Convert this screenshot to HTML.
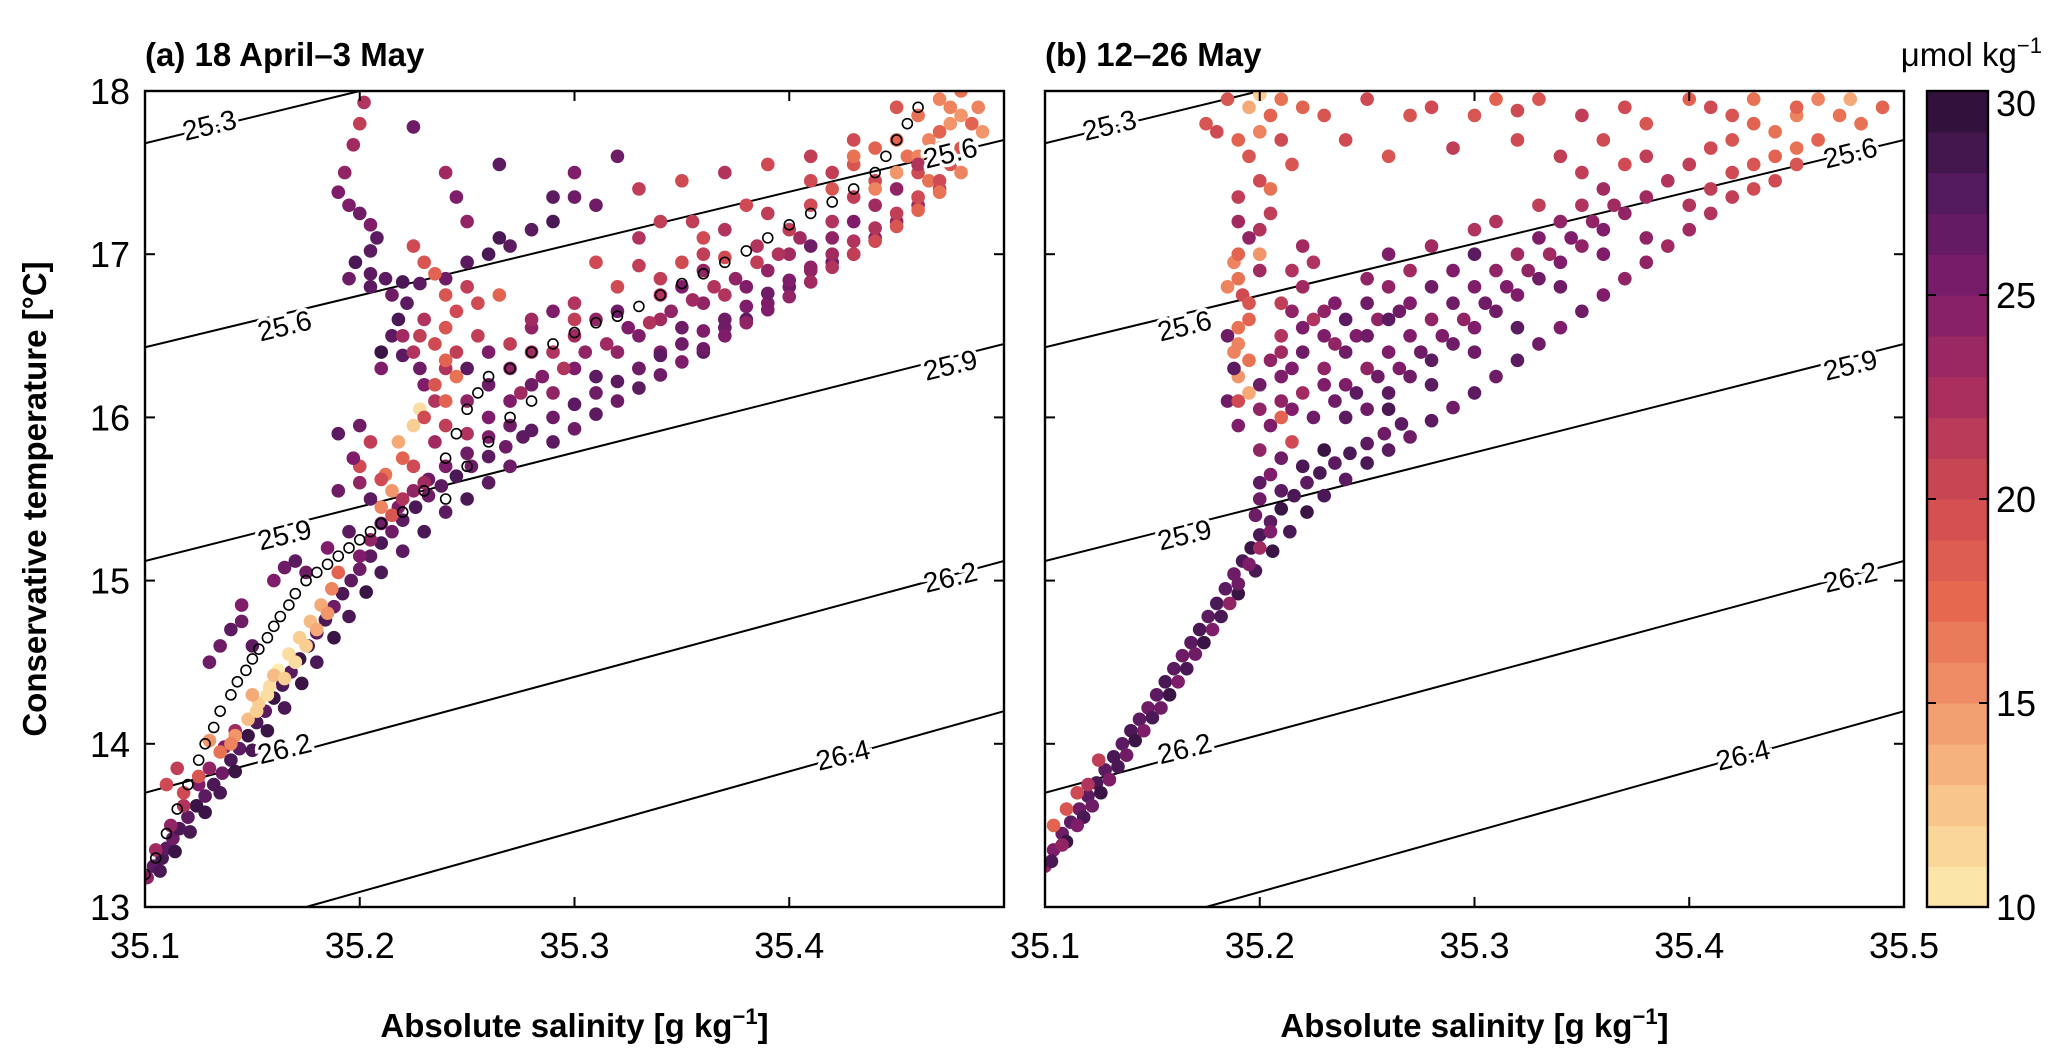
<!DOCTYPE html>
<html><head><meta charset="utf-8"><style>
html,body{margin:0;padding:0;background:#fff;}
svg{display:block;font-family:"Liberation Sans",Arial,sans-serif;}
</style></head><body>
<svg id="chart" width="2067" height="1057" viewBox="0 0 2067 1057" xmlns="http://www.w3.org/2000/svg">
<defs>
<clipPath id="clipA"><rect x="145" y="91" width="859" height="816"/></clipPath>
<clipPath id="clipB"><rect x="1045" y="91" width="859" height="816"/></clipPath>
</defs>
<g id="root"></g>
</svg>
<script>
// ---- data ----
const xTicks = [35.1, 35.2, 35.3, 35.4, 35.5];
const yTicks = [13, 14, 15, 16, 17, 18];
const cbTicks = [10, 15, 20, 25, 30];
const isoLabels = ["25.3", "25.6", "25.9", "26.2", "26.4"];
const isoStartS = [35.1, 35.1, 35.1, 35.1, 35.175];
const isoStartT = [17.68, 16.43, 15.12, 13.70, 13.0];
const isoEndS = [35.2, 35.5, 35.5, 35.5, 35.5];
const isoEndT = [18.0, 17.70, 16.45, 15.12, 14.2];
const isoLabelS = [[35.13], [35.165, 35.475], [35.165, 35.475], [35.165, 35.475], [35.425]];
const isoLabelT = [[17.79], [16.56, 17.62], [15.28, 16.32], [13.97, 15.02], [13.93]];

const pointsA = [
[35.101,13.18,24],[35.104,13.25,27],[35.108,13.3,28],[35.11,13.36,27],[35.113,13.42,26],[35.116,13.48,28],[35.12,13.55,27],[35.124,13.62,29],[35.128,13.68,27],[35.132,13.75,28],[35.136,13.82,26],[35.14,13.9,28],[35.144,13.97,27],[35.148,14.05,29],[35.152,14.13,28],[35.156,14.2,27],[35.16,14.28,29],[35.164,14.36,28],[35.168,14.44,27],[35.172,14.52,29],[35.176,14.6,28],[35.18,14.68,27],[35.184,14.76,28],[35.188,14.84,26],[35.192,14.92,28],[35.196,15.0,27],[35.2,15.07,26],[35.205,15.15,27],[35.21,15.23,28],[35.215,15.3,26],[35.22,15.37,27],[35.226,15.45,28],[35.232,15.52,26],[35.238,15.58,27],[35.245,15.64,28],[35.252,15.7,26],[35.26,15.76,27],[35.268,15.82,26],[35.276,15.88,27],
[35.107,13.22,28],[35.114,13.34,29],[35.121,13.46,28],[35.128,13.58,29],[35.135,13.7,28],[35.142,13.83,29],[35.15,13.96,28],[35.157,14.08,29],[35.165,14.22,28],[35.173,14.37,29],[35.18,14.5,28],[35.188,14.65,29],[35.195,14.78,28],[35.203,14.93,29],[35.21,15.05,28],[35.22,15.18,27],[35.23,15.3,28],[35.24,15.42,27],[35.25,15.5,28],[35.26,15.6,27],[35.27,15.7,26],
[35.105,13.35,23],[35.112,13.5,24],[35.118,13.62,22],[35.125,13.75,25],[35.13,13.85,24],[35.137,13.98,25],[35.142,14.08,23],[35.2,15.15,25],[35.205,15.25,24],[35.21,15.35,26],[35.218,15.45,25],[35.225,15.55,24],[35.232,15.62,26],[35.24,15.7,25],[35.25,15.78,26],[35.26,15.88,25],[35.27,15.95,26],
[35.135,13.95,17],[35.142,14.05,15],[35.148,14.15,13],[35.153,14.25,12],[35.158,14.35,11],[35.162,14.45,10],[35.167,14.55,11],[35.172,14.65,12],[35.177,14.75,13],[35.182,14.85,14],[35.187,14.95,16],[35.19,15.05,18],[35.125,13.8,19],[35.118,13.7,20],[35.13,14.02,15],[35.15,14.3,14],[35.16,14.42,13],
[35.152,14.2,12],[35.157,14.3,11],[35.165,14.4,12],[35.17,14.5,11],[35.175,14.6,12],[35.18,14.7,14],[35.185,14.8,15],[35.14,14.0,16],
[35.13,14.5,26],[35.135,14.6,26],[35.14,14.7,27],[35.145,14.75,26],[35.15,14.6,27],[35.145,14.85,25],[35.16,15.0,25],[35.165,15.08,26],[35.17,15.12,27],[35.175,15.05,26],[35.185,15.2,25],[35.195,15.3,27],[35.205,15.5,27],
[35.11,13.75,20],[35.115,13.85,21],
[35.21,15.45,16],[35.215,15.55,15],[35.212,15.65,17],[35.22,15.75,18],[35.218,15.85,14],[35.225,15.95,12],[35.228,16.05,11],[35.2,15.7,20],[35.205,15.85,21],[35.197,15.75,25],[35.19,15.9,27],[35.2,15.95,26],
[35.19,15.55,26],[35.2,15.6,24],[35.21,15.62,20],[35.215,15.4,19],[35.22,15.5,22],[35.225,15.7,20],[35.23,15.6,23],
[35.202,17.93,22],[35.2,17.8,21],[35.197,17.67,23],[35.193,17.5,24],[35.19,17.38,25],[35.195,17.3,25],[35.2,17.25,26],[35.205,17.18,25],[35.208,17.1,27],[35.205,17.02,27],[35.198,16.95,28],[35.205,16.88,27],[35.212,16.85,27],[35.22,16.83,28],[35.228,16.82,27],[35.222,16.7,27],[35.218,16.6,28],[35.215,16.5,27],[35.21,16.4,29],[35.22,16.38,27],[35.228,16.3,26],[35.23,16.2,25],[35.235,16.1,22],[35.23,16.0,20],
[35.21,16.3,25],[35.22,16.5,23],[35.225,16.4,22],[35.215,16.75,26],[35.205,16.8,27],[35.195,16.85,26],[35.24,16.3,22],[35.245,16.4,21],[35.24,16.1,18],
[35.24,16.85,26],[35.25,16.95,27],[35.26,17.0,28],[35.27,17.05,27],[35.28,17.15,27],[35.29,17.2,28],[35.3,17.35,26],
[35.225,17.78,26],[35.24,17.5,23],[35.245,17.35,25],[35.25,17.2,24],[35.265,17.1,28],[35.265,17.55,27],[35.29,17.35,27],[35.31,17.3,26],[35.3,17.5,25],[35.32,17.6,26],
[35.225,17.05,20],[35.23,16.95,19],[35.235,16.88,18],[35.24,16.75,19],[35.245,16.65,20],[35.24,16.55,19],[35.235,16.45,20],[35.24,16.35,18],[35.245,16.25,17],[35.235,16.2,19],[35.25,16.8,21],[35.255,16.7,20],[35.265,16.75,18],[35.255,16.5,21],[35.23,16.6,22],[35.228,16.5,21],
[35.31,16.95,20],[35.33,16.93,21],[35.35,16.95,20],[35.36,17.0,21],[35.37,16.98,20],[35.355,17.2,21],[35.38,17.3,20],[35.39,17.25,21],[35.41,17.45,20],[35.42,17.5,21],[35.43,17.55,19],[35.44,17.65,18],[35.45,17.7,18],[35.46,17.85,17],[35.47,17.95,16],[35.48,18.0,17],[35.475,17.8,15],[35.465,17.7,16],[35.455,17.6,17],[35.46,17.5,20],[35.44,17.45,20],[35.43,17.35,21],[35.42,17.2,22],[35.4,17.15,21],[35.385,17.05,22],[35.37,17.15,22],[35.34,17.2,21],[35.33,17.1,22],[35.33,17.4,21],[35.35,17.45,20],[35.37,17.5,22],[35.39,17.55,20],[35.41,17.6,21],[35.43,17.7,20],[35.45,17.9,19],[35.47,17.75,18],
[35.44,17.4,16],[35.45,17.5,15],[35.46,17.6,16],[35.465,17.45,17],[35.47,17.65,15],[35.48,17.85,15],[35.475,17.9,16],[35.43,17.6,17],[35.42,17.4,19],[35.41,17.3,20],
[35.27,16.1,25],[35.28,16.2,26],[35.29,16.15,24],[35.3,16.3,25],[35.31,16.25,27],[35.32,16.4,24],[35.3,16.5,23],[35.29,16.4,22],[35.28,16.55,24],[35.33,16.5,25],[35.34,16.6,23],[35.35,16.55,26],[35.36,16.7,24],[35.37,16.75,22],[35.38,16.8,25],[35.39,16.9,24],[35.4,17.0,23],[35.41,17.05,26],[35.42,17.1,24],[35.43,17.2,25],[35.44,17.3,23],[35.45,17.4,24],[35.46,17.55,22],[35.35,16.8,25],[35.36,16.9,24],[35.34,16.75,22],[35.32,16.65,26],[35.31,16.6,24],[35.3,16.7,22],[35.29,16.65,25],[35.28,16.4,23],[35.27,16.3,24],[35.26,16.2,26],[35.26,16.4,25],[35.25,16.3,27],[35.33,16.3,26],[35.34,16.4,25],[35.36,16.4,27],[35.37,16.55,26],[35.38,16.6,27],[35.39,16.7,25],[35.4,16.8,26],[35.41,16.9,24],[35.42,16.95,26],[35.43,17.0,23],[35.44,17.1,25],[35.45,17.2,24],[35.46,17.3,23],[35.47,17.4,21],
[35.275,16.15,23],[35.285,16.25,25],[35.295,16.3,22],[35.305,16.4,24],[35.315,16.45,23],[35.325,16.55,25],[35.335,16.58,22],[35.345,16.65,24],[35.355,16.72,23],[35.365,16.8,22],[35.375,16.85,24],[35.385,16.95,21],[35.395,17.0,22],[35.405,17.1,23],[35.27,16.45,21],[35.28,16.6,23],[35.3,16.6,21],[35.32,16.8,20],[35.34,16.85,21],[35.36,17.1,20],[35.25,16.1,24],[35.26,16.0,25],[35.235,15.85,23],[35.24,15.95,21],[35.25,15.9,22],
[35.28,15.92,27],[35.29,16.0,26],[35.3,16.08,27],[35.31,16.15,26],[35.32,16.22,27],[35.33,16.3,26],[35.34,16.38,27],[35.35,16.45,26],[35.36,16.53,25],[35.37,16.6,26],[35.38,16.68,25],[35.39,16.76,26],[35.4,16.84,25],[35.41,16.92,24],[35.42,17.0,23],[35.43,17.08,22],[35.44,17.16,22],[35.45,17.25,21],[35.46,17.35,20],[35.47,17.45,20],[35.475,17.55,19],[35.48,17.65,19],[35.485,17.8,18],
[35.29,15.85,27],[35.3,15.93,26],[35.31,16.02,27],[35.32,16.1,26],[35.33,16.18,27],[35.34,16.26,26],[35.35,16.34,25],[35.36,16.42,26],[35.37,16.5,25],[35.38,16.58,24],[35.39,16.66,25],[35.4,16.74,24],[35.41,16.83,23],[35.42,16.92,22],[35.43,17.0,21],[35.44,17.08,20],[35.45,17.17,19],[35.46,17.27,18],[35.47,17.38,17],[35.48,17.5,16],[35.485,17.62,16],[35.49,17.75,15],[35.488,17.9,16]
];
const circlesS = [35.1,35.105,35.11,35.115,35.12,35.125,35.128,35.132,35.135,35.14,35.143,35.147,35.15,35.153,35.157,35.16,35.163,35.167,35.17,35.175,35.18,35.185,35.19,35.195,35.2,35.205,35.21,35.22,35.23,35.24,35.245,35.25,35.255,35.26,35.27,35.28,35.29,35.3,35.31,35.32,35.33,35.34,35.35,35.36,35.37,35.38,35.39,35.4,35.41,35.42,35.43,35.44,35.445,35.45,35.455,35.46,35.24,35.25,35.26,35.27,35.28];
const circlesT = [13.2,13.3,13.45,13.6,13.75,13.9,14.0,14.1,14.2,14.3,14.38,14.45,14.52,14.58,14.65,14.72,14.78,14.85,14.92,15.0,15.05,15.1,15.15,15.2,15.25,15.3,15.35,15.42,15.55,15.75,15.9,16.05,16.15,16.25,16.3,16.4,16.45,16.52,16.58,16.62,16.68,16.75,16.82,16.88,16.95,17.02,17.1,17.18,17.25,17.32,17.4,17.5,17.6,17.7,17.8,17.9,15.5,15.7,15.85,16.0,16.1];

const pointsB = [
[35.1,13.25,24],[35.104,13.35,25],[35.108,13.45,26],[35.112,13.52,27],[35.116,13.6,26],[35.12,13.68,27],[35.124,13.76,28],[35.128,13.84,27],[35.132,13.92,28],[35.136,14.0,27],[35.14,14.08,28],[35.144,14.15,27],[35.148,14.22,26],[35.152,14.3,27],[35.156,14.38,28],[35.16,14.46,27],[35.164,14.54,26],[35.168,14.62,27],[35.172,14.7,28],[35.176,14.78,27],[35.18,14.86,28],[35.184,14.95,27],[35.188,15.04,26],[35.192,15.12,28],[35.196,15.2,29],[35.2,15.28,28],[35.205,15.36,27],[35.21,15.44,29],[35.216,15.52,28],[35.222,15.6,27],[35.228,15.66,28],[35.235,15.72,27],[35.242,15.78,28],[35.25,15.84,27],[35.258,15.9,26],[35.266,15.96,27],
[35.103,13.28,28],[35.11,13.4,29],[35.118,13.55,28],[35.126,13.7,29],[35.134,13.86,28],[35.142,14.02,29],[35.15,14.16,28],[35.158,14.3,29],[35.166,14.46,28],[35.174,14.62,29],[35.182,14.78,28],[35.19,14.92,29],[35.198,15.06,28],[35.206,15.18,29],[35.214,15.3,28],[35.222,15.42,29],[35.23,15.52,28],[35.24,15.62,27],[35.25,15.72,28],[35.26,15.8,27],[35.27,15.88,26],[35.28,15.98,27],[35.29,16.06,26],[35.3,16.15,27],[35.31,16.25,26],[35.32,16.35,27],[35.33,16.45,26],[35.34,16.55,25],[35.35,16.65,26],[35.36,16.75,25],[35.37,16.85,24],[35.38,16.95,24],[35.39,17.05,23],[35.4,17.15,23],[35.41,17.25,22],[35.42,17.35,21],[35.44,17.45,20],[35.45,17.55,19],
[35.108,13.38,24],[35.115,13.5,25],[35.122,13.62,26],[35.13,13.78,25],[35.138,13.93,26],[35.146,14.08,25],[35.154,14.22,26],[35.162,14.38,25],[35.17,14.55,26],[35.178,14.7,25],[35.186,14.86,24],[35.19,14.98,26],[35.195,15.1,25],[35.2,15.2,23],[35.205,15.3,25],[35.198,15.4,26],[35.21,15.55,27],[35.22,15.7,28],[35.23,15.8,29],
[35.104,13.5,18],[35.11,13.6,19],[35.115,13.7,20],[35.12,13.75,22],[35.125,13.9,21],
[35.2,15.5,26],[35.205,15.65,25],[35.2,15.8,24],[35.205,15.95,25],[35.21,16.1,24],[35.2,16.2,26],[35.205,16.35,24],[35.21,16.5,22],[35.215,16.65,24],[35.22,16.8,23],[35.225,16.95,22],[35.215,16.3,25],[35.22,16.15,23],[35.225,16.0,26],[35.23,16.2,25],[35.235,16.45,24],[35.225,16.6,22],[35.21,16.7,21],[35.2,16.9,23],[35.195,17.1,24],[35.19,17.2,23],[35.192,16.75,20],[35.195,16.6,18],[35.19,16.45,16],[35.195,16.35,17],[35.19,16.25,15],[35.195,16.15,14],[35.19,16.85,17],[35.188,16.95,16],[35.2,17.0,15],[35.2,17.15,22],[35.19,17.35,21],[35.2,17.45,20],[35.195,17.6,19],[35.2,17.75,16],[35.195,17.9,14],[35.205,17.85,18],[35.21,17.7,20],[35.215,17.55,19],[35.205,17.4,17],[35.21,16.0,18],[35.215,15.85,20],[35.19,15.95,25],[35.185,16.1,26],[35.188,16.3,27],[35.185,16.5,26],
[35.2,15.6,27],[35.21,15.75,26],[35.215,16.05,25],[35.2,16.05,24],[35.21,16.4,23],[35.22,16.55,25],[35.23,16.65,24],[35.215,16.9,22],[35.22,17.05,23],[35.205,17.25,21],[35.195,16.7,19],[35.19,16.55,17],[35.188,16.4,16],[35.19,16.1,20],[35.19,17.0,18],[35.185,16.8,16],
[35.24,16.0,27],[35.25,16.05,26],[35.26,16.15,27],[35.27,16.25,26],[35.28,16.35,27],[35.29,16.45,26],[35.3,16.55,25],[35.31,16.65,26],[35.32,16.75,25],[35.33,16.85,26],[35.34,16.95,25],[35.35,17.05,24],[35.36,17.15,25],[35.37,17.25,24],[35.38,17.35,23],[35.39,17.45,22],[35.4,17.55,21],[35.41,17.65,20],[35.42,17.7,19],[35.43,17.8,18],[35.44,17.75,17],[35.45,17.85,16],
[35.235,16.1,26],[35.245,16.15,27],[35.255,16.25,26],[35.265,16.3,25],[35.275,16.4,26],[35.285,16.5,25],[35.295,16.6,24],[35.305,16.7,26],[35.315,16.8,25],[35.325,16.9,24],[35.335,17.0,23],[35.345,17.1,25],[35.355,17.2,24],[35.365,17.3,23],[35.245,16.5,25],[35.255,16.6,24],[35.265,16.65,26],[35.235,16.7,25],[35.25,16.85,24],[35.26,17.0,25],[35.28,17.05,23],[35.3,17.15,22],
[35.24,16.2,25],[35.25,16.3,24],[35.26,16.4,25],[35.25,16.5,26],[35.26,16.6,27],[35.27,16.5,25],[35.28,16.6,24],[35.29,16.7,26],[35.3,16.8,25],[35.31,16.9,24],[35.32,17.0,23],[35.33,17.1,25],[35.34,17.2,24],[35.35,17.3,22],[35.36,17.4,23],[35.3,17.0,27],[35.29,16.9,25],[35.28,16.8,26],[35.27,16.9,23],[35.26,16.8,24],[35.25,16.7,26],[35.24,16.6,27],[35.23,16.5,25],[35.24,16.4,26],[35.27,16.7,25],[35.31,17.2,22],[35.33,17.3,21],[35.35,17.5,21],[35.37,17.55,20],[35.38,17.6,21],[35.4,17.3,22],[35.41,17.4,21],[35.42,17.5,20],[35.43,17.55,19],[35.44,17.6,18],[35.45,17.65,17],[35.46,17.7,18],[35.38,17.1,24],[35.36,17.0,25],[35.34,16.8,26],[35.32,16.55,27],[35.3,16.4,26],[35.28,16.2,27],[35.26,16.05,28],[35.23,16.3,24],[35.22,16.4,26],[35.21,16.25,25],
[35.185,17.95,19],[35.2,17.98,12],[35.19,17.7,18],[35.18,17.75,20],[35.175,17.8,19],[35.21,17.95,17],[35.22,17.9,18],[35.23,17.85,19],[35.25,17.95,20],[35.27,17.85,19],[35.28,17.9,20],[35.3,17.85,19],[35.31,17.95,18],[35.32,17.88,20],[35.33,17.95,19],[35.35,17.85,21],[35.37,17.9,20],[35.38,17.8,19],[35.4,17.95,18],[35.41,17.9,20],[35.42,17.85,19],[35.43,17.95,17],[35.45,17.9,18],[35.46,17.95,16],[35.47,17.85,17],[35.475,17.95,14],[35.48,17.8,17],[35.49,17.9,18],[35.24,17.7,20],[35.26,17.6,19],[35.29,17.65,21],[35.32,17.7,20],[35.34,17.6,21],[35.36,17.7,20],[35.43,17.4,20]
];

// ---- rendering ----
const NS = "http://www.w3.org/2000/svg";
const root = document.getElementById("root");
const Y0 = 91, Y1 = 907, PW = 859;
const panels = [{x0:145, clip:"clipA", name:"panel-a"}, {x0:1045, clip:"clipB", name:"panel-b"}];
function el(tag, attrs, parent) { const e = document.createElementNS(NS, tag); for (const k in attrs) e.setAttribute(k, attrs[k]); (parent||root).appendChild(e); return e; }
function sx(p, s) { return p.x0 + (s - 35.1) / 0.4 * PW; }
function ty(t) { return Y1 - (t - 13) / 5 * (Y1 - Y0); }
const stops = [[10,[253,237,176]],[12.5,[248,198,139]],[15,[241,149,106]],[17.5,[230,105,79]],[20,[207,74,82]],[22.5,[170,47,94]],[25,[127,29,106]],[27.5,[83,26,94]],[30,[42,16,53]]];
function cmap(v) {
  v = Math.max(10, Math.min(30, v));
  for (let i = 0; i < stops.length - 1; i++) {
    if (v <= stops[i+1][0]) {
      const f = (v - stops[i][0]) / (stops[i+1][0] - stops[i][0]);
      const c = stops[i][1].map((a, j) => Math.round(a + f * (stops[i+1][1][j] - a)));
      return "rgb(" + c.join(",") + ")";
    }
  }
  return "rgb(42,16,53)";
}
const ang = -13.7;

panels.forEach((p, pi) => {
  const g = el("g", {});
  
  
  const ig = el("g", {"clip-path": "url(#" + p.clip + ")"}, g);
  isoLabels.forEach((lab, i) => {
    const ln = el("line", {x1: sx(p, isoStartS[i]), y1: ty(isoStartT[i]), x2: sx(p, isoEndS[i]), y2: ty(isoEndT[i]), stroke: "#000", "stroke-width": 2}, ig);
    
    
  });
  const pts = pi === 0 ? pointsA : pointsB;
  const dg = el("g", {"clip-path": "url(#" + p.clip + ")"}, g);
  pts.forEach(d => {
    const c = el("circle", {cx: sx(p, d[0]), cy: ty(d[1]), r: 6.8, fill: cmap(d[2])}, dg);
    
    
  });
  if (pi === 0) {
    circlesS.forEach((s, i) => {
      const c = el("circle", {cx: sx(p, s), cy: ty(circlesT[i]), r: 5, fill: "none", stroke: "#000", "stroke-width": 1.6}, dg);
      
      
    });
  }
  isoLabels.forEach((lab, i) => {
    isoLabelS[i].forEach((s, k) => {
      const x = sx(p, s), y = ty(isoLabelT[i][k]);
      const t = el("text", {x: x, y: y, "font-size": 28, "text-anchor": "middle", "dominant-baseline": "central", transform: "rotate(" + ang + " " + x + " " + y + ")", stroke: "#fff", "stroke-width": 7, "paint-order": "stroke", fill: "#000"}, g);
      t.textContent = lab;
      
      
    });
  });
  const fr = el("rect", {x: p.x0, y: Y0, width: PW, height: Y1 - Y0, fill: "none", stroke: "#000", "stroke-width": 2.4}, g);
  
  
  xTicks.forEach(v => {
    const x = sx(p, v);
    el("line", {x1: x, y1: Y1, x2: x, y2: Y1 - 10, stroke: "#000", "stroke-width": 2}, g);
    el("line", {x1: x, y1: Y0, x2: x, y2: Y0 + 10, stroke: "#000", "stroke-width": 2}, g);
    if (pi === 1 || v < 35.5) {
      const t = el("text", {x: x, y: 958, "font-size": 36, "text-anchor": "middle", fill: "#000"}, g);
      t.textContent = v.toFixed(1);
      
      
    }
  });
  yTicks.forEach(v => {
    const y = ty(v);
    el("line", {x1: p.x0, y1: y, x2: p.x0 + 10, y2: y, stroke: "#000", "stroke-width": 2}, g);
    el("line", {x1: p.x0 + PW, y1: y, x2: p.x0 + PW - 10, y2: y, stroke: "#000", "stroke-width": 2}, g);
    if (pi === 0) {
      const t = el("text", {x: 130, y: y + 13, "font-size": 36, "text-anchor": "end", fill: "#000"}, g);
      t.textContent = v;
      
      
    }
  });
  const xt = el("text", {x: p.x0 + PW / 2, y: 1037, "font-size": 33, "font-weight": "bold", "text-anchor": "middle", fill: "#000"}, g);
  xt.innerHTML = 'Absolute salinity [g kg<tspan dy="-13" font-size="22">−1</tspan><tspan dy="13">]</tspan>';
  
  
  const pt = el("text", {x: p.x0, y: 66, "font-size": 33, "font-weight": "bold", fill: "#000"}, g);
  pt.textContent = pi === 0 ? "(a) 18 April–3 May" : "(b) 12–26 May";
  
  
});

const yt = el("text", {x: 0, y: 0, "font-size": 33, "font-weight": "bold", "text-anchor": "middle", transform: "translate(46 499) rotate(-90)", fill: "#000"});
yt.textContent = "Conservative temperature [°C]";



const cb = el("g", {});


const CX = 1927, CW = 61;
function cy(v) { return Y1 - (v - 10) / 20 * (Y1 - Y0); }
for (let v = 10; v < 30; v++) {
  const r = el("rect", {x: CX, y: cy(v + 1), width: CW, height: cy(v) - cy(v + 1) + 0.6, fill: cmap(v + 0.5)}, cb);
  
  
}
el("rect", {x: CX, y: Y0, width: CW, height: Y1 - Y0, fill: "none", stroke: "#000", "stroke-width": 2.4}, cb);
cbTicks.forEach(v => {
  const y = cy(v);
  el("line", {x1: CX, y1: y, x2: CX + 9, y2: y, stroke: "#000", "stroke-width": 2}, cb);
  el("line", {x1: CX + CW, y1: y, x2: CX + CW - 9, y2: y, stroke: "#000", "stroke-width": 2}, cb);
  const t = el("text", {x: 1996, y: Math.min(Math.max(y + 13, 116), 920), "font-size": 36, fill: "#000"}, cb);
  t.textContent = v;
  
  
});
const cu = el("text", {x: 2042, y: 66, "font-size": 33, "text-anchor": "end", fill: "#000"});
cu.innerHTML = 'μmol kg<tspan dy="-13" font-size="22">−1</tspan>';


</script>
</body></html>
